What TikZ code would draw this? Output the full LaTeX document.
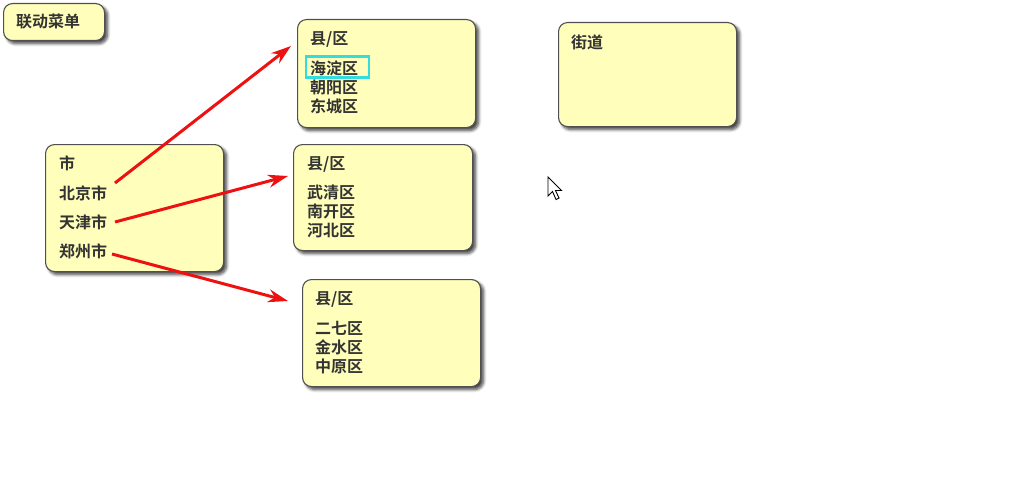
\documentclass[tikz,border=0pt]{standalone}
\usepackage{fontspec}
\newfontfamily\cjk{Noto Sans CJK SC}[BoldFont={Noto Sans CJK SC Bold}]
\usetikzlibrary{shadows.blur,arrows.meta}
\definecolor{boxfill}{HTML}{FFFFBB}
\definecolor{boxline}{HTML}{505050}
\definecolor{txt}{HTML}{333333}
\definecolor{hl}{HTML}{33DDDD}
\definecolor{arr}{HTML}{EE1111}
\tikzset{
  panel/.style={draw=boxline, line width=1.1pt, fill=boxfill, rounded corners=9pt,
    blur shadow={shadow xshift=3pt, shadow yshift=-3pt, shadow blur steps=6, shadow blur radius=3pt, shadow opacity=75}},
  lbl/.style={anchor=west, inner sep=0pt, text=txt, font=\cjk\bfseries\fontsize{16}{16}\selectfont},
  link/.style={draw=arr, line width=3pt, -{Stealth[length=20pt,width=13pt]}},
}
\begin{document}
\begin{tikzpicture}[x=1pt,y=-1pt]
\useasboundingbox (0,0) rectangle (1024,476);
% panels
\node[panel, minimum width=101pt, minimum height=37pt, anchor=north west] (menu) at (3,3) {};
\node[panel, minimum width=178pt, minimum height=127pt, anchor=north west] (city) at (45,144) {};
\node[panel, minimum width=178pt, minimum height=108pt, anchor=north west] (d1) at (297,19) {};
\node[panel, minimum width=179pt, minimum height=106pt, anchor=north west] (d2) at (293,144) {};
\node[panel, minimum width=178pt, minimum height=107pt, anchor=north west] (d3) at (302,279) {};
\node[panel, minimum width=178pt, minimum height=104pt, anchor=north west] (st) at (558,22) {};
% labels
\node[lbl] (menut) at (16,22) {联动菜单};
\node[lbl] (cityt) at (59,163) {市};
\node[lbl] (bj) at (59,193) {北京市};
\node[lbl] (tj) at (59,222) {天津市};
\node[lbl] (zz) at (59,251) {郑州市};
\node[lbl] (d1t) at (310,40) {县/区};
\node[lbl] (hd) at (310,68) {海淀区};
\node[lbl] (cy) at (310,87) {朝阳区};
\node[lbl] (dc) at (310,106) {东城区};
\node[lbl] (d2t) at (307,164) {县/区};
\node[lbl] (wq) at (307,192) {武清区};
\node[lbl] (nk) at (307,212) {南开区};
\node[lbl] (hb) at (307,231) {河北区};
\node[lbl] (d3t) at (315,299) {县/区};
\node[lbl] (eq) at (315,328) {二七区};
\node[lbl] (js) at (315,347) {金水区};
\node[lbl] (zy) at (315,366) {中原区};
\node[lbl] (stt) at (571,42) {街道};
% highlight
\node[draw=hl, line width=2.6pt, minimum width=63pt, minimum height=21pt, anchor=north west, inner sep=0pt] (sel) at (304.5,55.5) {};
% arrows
\coordinate (a1s) at (115,183);
\coordinate (a1e) at (291,46);
\coordinate (a2s) at (115,222);
\coordinate (a2e) at (288,176);
\coordinate (a3s) at (112,254);
\coordinate (a3e) at (288,301);
\draw[link] (a1s) -- (a1e);
\draw[link] (a2s) -- (a2e);
\draw[link] (a3s) -- (a3e);
% cursor
\coordinate (cur) at (548,177);
\draw[fill=white, line width=0.9pt, line join=miter] (cur) -- ++(0,19) -- ++(4.5,-4.5) -- ++(3.5,8) -- ++(3,-1.5) -- ++(-3.5,-7.5) -- ++(6,0) -- cycle;
\end{tikzpicture}
\end{document}
